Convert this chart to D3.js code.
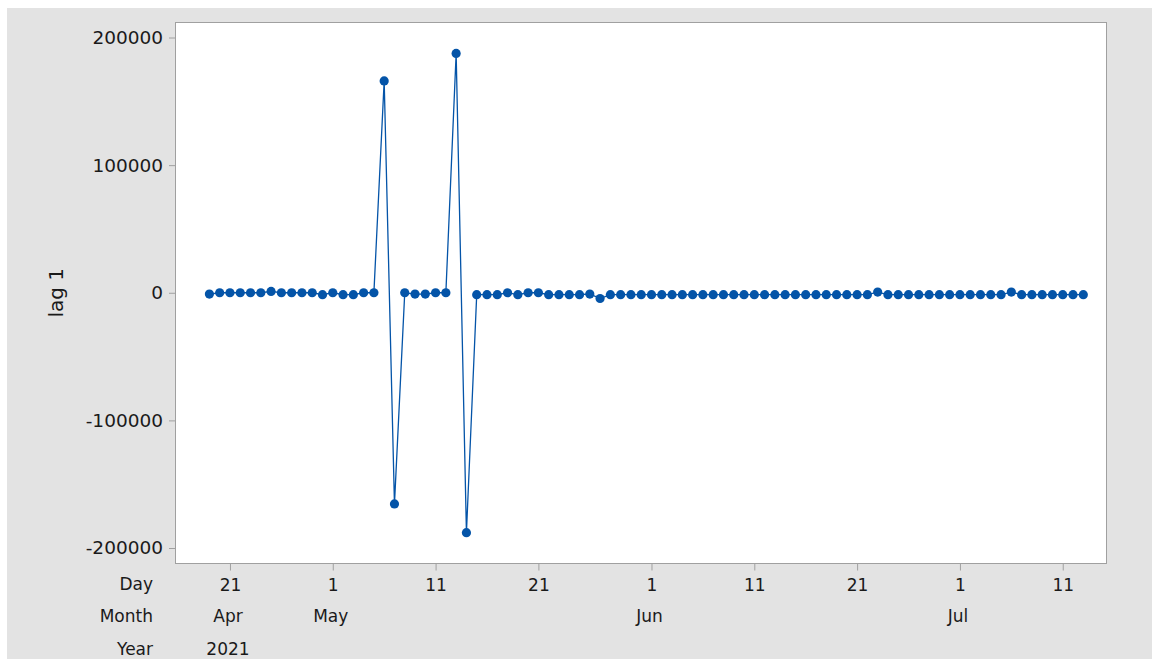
<!DOCTYPE html>
<html>
<head>
<meta charset="utf-8">
<script src="https://cdn.jsdelivr.net/npm/d3@7"></script>
<style>
  body { margin: 0; background: #fff; }
  text { font-family: "DejaVu Sans", sans-serif; fill: #1a1a1a; }
</style>
</head>
<body>
<script>
// daily series, 19 Apr 2021 .. 13 Jul 2021
var startDate = "2021-04-19"
var lagValues = [
  -1000, 0, 0, 0, 0, 0, 1000, 0, 0, 0, 0, -1500,
  0, -1500, -1500, 0, 0, 166000, -165500, 0, -1000, -1000, 0, 0,
  187500, -188000, -1500, -1500, -1500, 0, -1500, 0, 0, -1500, -1500, -1500,
  -1500, -1000, -4500, -1500, -1500, -1500, -1500, -1500, -1500, -1500, -1500, -1500,
  -1500, -1500, -1500, -1500, -1500, -1500, -1500, -1500, -1500, -1500, -1500, -1500,
  -1500, -1500, -1500, -1500, -1500, 500, -1500, -1500, -1500, -1500, -1500, -1500,
  -1500, -1500, -1500, -1500, -1500, -1500, 500, -1500, -1500, -1500, -1500, -1500,
  -1500, -1500
]
var yTicks = [-200000, -100000, 0, 100000, 200000]
var dayTicks = ["2021-04-21", "2021-05-01", "2021-05-11", "2021-05-21", "2021-06-01",
  "2021-06-11", "2021-06-21", "2021-07-01", "2021-07-11"]
var monthLabels = [["2021-04-21", "Apr"], ["2021-05-01", "May"], ["2021-06-01", "Jun"], ["2021-07-01", "Jul"]]
var yearLabels = [["2021-04-21", "2021"]]
var rowNames = ["Day", "Month", "Year"]

var width = 1152, height = 659
var plot = {left: 175, top: 22, right: 1106, bottom: 563}
var blue = "#0454a8"

var t0 = new Date(startDate + "T00:00:00Z")
var data = lagValues.map((v, i) => ({date: d3.utcDay.offset(t0, i), value: v}))
var parse = s => new Date(s + "T00:00:00Z")

var x = d3.scaleUtc()
    .domain([data[0].date, data[data.length - 1].date])
    .range([209.4, 1083.3])
var y = d3.scaleLinear()
    .domain([-200000, 200000])
    .range([548, 37.5])

var svg = d3.select("body").append("svg")
    .attr("width", width)
    .attr("height", height)

// grey frame area
svg.append("rect")
    .attr("x", 7).attr("y", 8)
    .attr("width", width - 7).attr("height", height - 8)
    .attr("fill", "#e3e3e3")

svg.append("rect")
    .attr("x", plot.left + 0.5).attr("y", plot.top + 0.5)
    .attr("width", plot.right - plot.left).attr("height", plot.bottom - plot.top)
    .attr("fill", "#fff")
    .attr("stroke", "#a0a0a0")

// y axis
var yAxis = svg.append("g")
    .attr("transform", `translate(${plot.left},0)`)
    .call(d3.axisLeft(y).tickValues(yTicks).tickSize(6).tickPadding(6).tickFormat(d => String(d)))
yAxis.select(".domain").remove()
yAxis.selectAll("line").attr("stroke", "#a0a0a0")
yAxis.selectAll("text")
    .style("font-family", "DejaVu Sans")
    .style("font-size", "18.5px")
    .attr("fill", "#1a1a1a")

svg.append("text")
    .attr("transform", `translate(63,${y(0)}) rotate(-90)`)
    .attr("text-anchor", "middle")
    .style("font-size", "20px")
    .text("lag 1")

// x axis: day ticks
var xAxis = svg.append("g")
    .attr("transform", `translate(0,${plot.bottom + 0.5})`)
    .call(d3.axisBottom(x).tickValues(dayTicks.map(parse)).tickSize(7).tickPadding(8)
        .tickFormat(d3.utcFormat("%-d")))
xAxis.select(".domain").remove()
xAxis.selectAll("line").attr("stroke", "#a0a0a0")
xAxis.selectAll("text")
    .style("font-family", "DejaVu Sans")
    .style("font-size", "17px")
    .attr("fill", "#1a1a1a")

var rowY = [590, 622, 655]
svg.selectAll(".rowname")
    .data(rowNames)
    .enter().append("text")
    .attr("class", "rowname")
    .attr("x", 153)
    .attr("y", (d, i) => rowY[i])
    .attr("text-anchor", "end")
    .style("font-size", "17px")
    .text(d => d)

svg.selectAll(".month")
    .data(monthLabels)
    .enter().append("text")
    .attr("class", "month")
    .attr("x", d => x(parse(d[0])) - 2)
    .attr("y", rowY[1])
    .attr("text-anchor", "middle")
    .style("font-size", "17px")
    .text(d => d[1])

svg.selectAll(".year")
    .data(yearLabels)
    .enter().append("text")
    .attr("class", "year")
    .attr("x", d => x(parse(d[0])) - 2)
    .attr("y", rowY[2])
    .attr("text-anchor", "middle")
    .style("font-size", "17px")
    .text(d => d[1])

// series
var line = d3.line()
    .x(d => x(d.date))
    .y(d => y(d.value))

svg.append("path")
    .datum(data)
    .attr("d", line)
    .attr("fill", "none")
    .attr("stroke", blue)
    .attr("stroke-width", 1.3)

svg.append("g")
    .selectAll("circle")
    .data(data)
    .enter().append("circle")
    .attr("cx", d => x(d.date))
    .attr("cy", d => y(d.value))
    .attr("r", 4.6)
    .attr("fill", blue)
</script>
</body>
</html>
